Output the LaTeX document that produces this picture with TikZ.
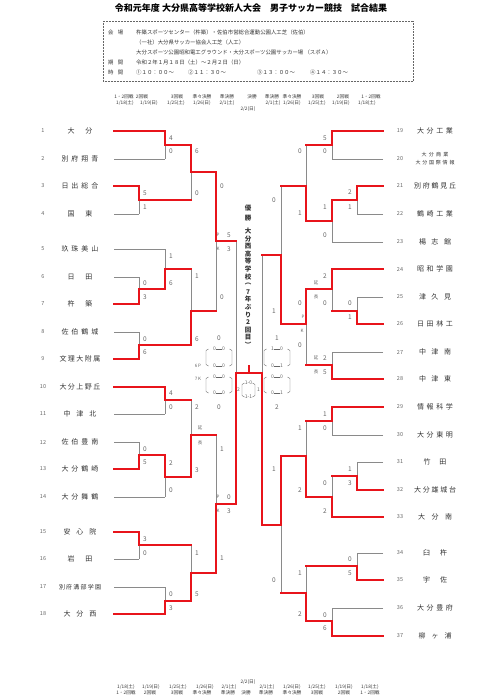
\documentclass[tikz,border=0pt]{standalone}
\usepackage{fontspec}
\setmainfont{Noto Sans CJK JP}
\usetikzlibrary{positioning}
\definecolor{cRed}{HTML}{E8141B}
\definecolor{cLine}{HTML}{8A8A8A}
\definecolor{cText}{HTML}{333333}
\definecolor{cNum}{HTML}{666666}
\pgfdeclarelayer{bg}
\pgfsetlayers{bg,main}

% spread the letters of a name over a fixed width
\def\spacedloop#1#2{#1\ifx#2\relax\else\hfil\expandafter\spacedloop\expandafter#2\fi}
\newcommand\spaced[2]{\makebox[#1][s]{\spacedloop#2\relax}}
\newcommand\hd{\rule[0.28em]{6pt}{0.4pt}}
\newcommand\smallname{\fontsize{5}{7.5}\selectfont}

% one match: x, top y, bottom y, out y, winner y, next x
\newcommand\bout[6]{%
  \begin{pgfonlayer}{bg}\draw[lose] (#1,#2) -- (#1,#3);\end{pgfonlayer}
  \draw[win] (#1,#5) -- (#1,#4) -- (#6,#4);}

% half-time box: centre x, top y, bottom y, half width, top text, bottom text
\newcommand\halves[6]{%
  \draw[boxline] (#1-#4+2.5,#2) -- (#1-#4,#2+1.5) -- (#1-#4,#3-1.5) -- (#1-#4+2.5,#3);
  \draw[boxline] (#1+#4-2.5,#2) -- (#1+#4,#2+1.5) -- (#1+#4,#3-1.5) -- (#1+#4-2.5,#3);
  \node[halfsc] (h-#1-#2) at (#1,#2) {#5};
  \node[halfsc] (h-#1-#3) at (#1,#3) {#6};}

\begin{document}
\begin{tikzpicture}[x=1pt, y=-1pt,
  win/.style={draw=cRed, line width=1.4pt, line cap=rect},
  lose/.style={draw=cLine, line width=0.6pt},
  tnum/.style={font=\fontsize{5.5}{6}\selectfont, text=cNum, inner sep=0pt},
  tname/.style={font=\fontsize{7}{8}\selectfont, text=cText, inner sep=0pt, align=center},
  score/.style={font=\fontsize{6.5}{7}\selectfont, text=cNum, inner sep=0pt},
  pkmark/.style={font=\fontsize{4.5}{5}\selectfont, text=cNum, inner sep=0pt},
  halfsc/.style={font=\fontsize{5}{6}\selectfont, text=cNum, inner sep=0pt},
  boxline/.style={draw=cNum, line width=0.4pt},
  hdr/.style={font=\fontsize{4.7}{5}\selectfont, text=cText, inner sep=0pt},
  info/.style={font=\fontsize{5.4}{6}\selectfont, text=cText, inner sep=0pt, anchor=west},
  champ/.style={font=\fontsize{6.5}{7}\selectfont\bfseries, text=cText, inner sep=0pt},
]
\useasboundingbox (0,0) rectangle (480,699);

%% title and venue box
\node[font=\fontsize{9}{10}\selectfont\bfseries, text=black] (title) at (251,8)
  {令和元年度 大分県高等学校新人大会　男子サッカー競技　試合結果};
\draw[cNum, line width=0.5pt, densely dotted] (103,21) rectangle (413,81);
\node[info] (lab1) at (108,32) {\spaced{15pt}{会場}};
\node[info] (lab2) at (108,62) {\spaced{15pt}{期間}};
\node[info] (lab3) at (108,72) {\spaced{15pt}{時間}};
\node[info] (ven1) at (136,32) {杵築スポーツセンター（杵築）・佐伯市営総合運動公園人工芝（佐伯）};
\node[info] (ven2) at (136,42) {（一社）大分県サッカー協会人工芝（人工）};
\node[info] (ven3) at (136,52) {大分スポーツ公園昭和電工グラウンド・大分スポーツ公園サッカー場 （スポＡ）};
\node[info] (per) at (136,62) {令和２年１月１８日（土）～２月２日（日）};
\node[info] (k1) at (136,72) {①１０：００～};
\node[info] (k2) at (188,72) {②１１：３０～};
\node[info] (k3) at (257,72) {③１３：００～};
\node[info] (k4) at (310,72) {④１４：３０～};

%% round headers, top and bottom
\foreach \x/\t [count=\i] in {124/1・2回戦, 142/2回戦, 177/3回戦, 202/準々決勝, 227/準決勝,
    252/決勝, 272/準決勝, 292/準々決勝, 318/3回戦, 343/2回戦, 371/1・2回戦}
  \node[hdr] (hr-\i) at (\x,97) {\t};
\foreach \x/\t [count=\i] in {125/{1/18(土)}, 149/{1/19(日)}, 176/{1/25(土)}, 202/{1/26(日)},
    227/{2/1(土)}, 273/{2/1(土)}, 292/{1/26(日)}, 317/{1/25(土)}, 341/{1/19(日)}, 367/{1/18(土)}}
  \node[hdr] (hd-\i) at (\x,103) {\t};
\node[hdr] (hfin) at (248,109) {2/2(日)};
\node[hdr] (ffin) at (248,682) {2/2(日)};
\foreach \x/\t [count=\i] in {126/{1/18(土)}, 151/{1/19(日)}, 178/{1/25(土)}, 205/{1/26(日)},
    229/{2/1(土)}, 267/{2/1(土)}, 292/{1/26(日)}, 317/{1/25(土)}, 344/{1/19(日)}, 370/{1/18(土)}}
  \node[hdr] (fd-\i) at (\x,687) {\t};
\foreach \x/\t [count=\i] in {126/1・2回戦, 150/2回戦, 177/3回戦, 202/準々決勝, 228/準決勝,
    246/決勝, 266/準決勝, 292/準々決勝, 317/3回戦, 344/2回戦, 370/1・2回戦}
  \node[hdr] (fr-\i) at (\x,693) {\t};

%% teams, left half
\foreach \n/\y/\nm/\xe/\st in {
  1/131/{\spaced{25pt}{大分}}/165/win,
  2/159/{\spaced{37pt}{別府翔青}}/165/lose,
  3/186/{\spaced{37pt}{日出総合}}/139/win,
  4/214/{\spaced{25pt}{国東}}/139/lose,
  5/249/{\spaced{37pt}{玖珠美山}}/165/lose,
  6/277/{\spaced{25pt}{日田}}/139/lose,
  7/304/{\spaced{25pt}{杵築}}/139/win,
  8/332/{\spaced{37pt}{佐伯鶴城}}/139/lose,
  9/359/{\spaced{41pt}{文理大附属}}/139/win,
  10/387/{\spaced{41pt}{大分上野丘}}/165/win,
  11/414/{\spaced{33pt}{中津北}}/165/lose,
  12/442/{\spaced{37pt}{佐伯豊南}}/139/lose,
  13/469/{\spaced{37pt}{大分鶴崎}}/139/win,
  14/497/{\spaced{37pt}{大分舞鶴}}/165/lose,
  15/532/{\spaced{33pt}{安心院}}/139/win,
  16/559/{\spaced{25pt}{岩田}}/139/lose,
  17/587/{\fontsize{6}{7}\selectfont\spaced{42pt}{別府溝部学園}}/165/lose,
  18/614/{\spaced{33pt}{大分西}}/165/win}
{
  \node[tnum] (n\n) at (43,\y) {\n};
  \node[tname] (t\n) at (80,\y) {\nm};
  \coordinate (e\n) at (114,\y);
  \draw[\st] (e\n) -- (\xe,\y);
}

%% teams, right half
\foreach \n/\y/\nm/\xe/\st in {
  19/131/{\spaced{36pt}{大分工業}}/332/win,
  20/159/{\smallname\spaced{27pt}{大分商業}\\\smallname\spaced{39pt}{大分国際情報}}/332/lose,
  21/186/{\spaced{42pt}{別府鶴見丘}}/357/win,
  22/214/{\spaced{36pt}{鶴崎工業}}/357/lose,
  23/242/{\spaced{32pt}{楊志館}}/332/lose,
  24/269/{\spaced{36pt}{昭和学園}}/332/win,
  25/297/{\spaced{32pt}{津久見}}/357/lose,
  26/324/{\spaced{36pt}{日田林工}}/357/win,
  27/352/{\spaced{32pt}{中津南}}/332/lose,
  28/379/{\spaced{32pt}{中津東}}/332/win,
  29/407/{\spaced{36pt}{情報科学}}/332/win,
  30/435/{\spaced{36pt}{大分東明}}/332/lose,
  31/462/{\spaced{23pt}{竹田}}/357/lose,
  32/490/{\spaced{42pt}{大分雄城台}}/357/win,
  33/517/{\spaced{34pt}{大分南}}/332/win,
  34/553/{\spaced{24pt}{臼杵}}/357/lose,
  35/580/{\spaced{24pt}{宇佐}}/357/win,
  36/608/{\spaced{36pt}{大分豊府}}/332/lose,
  37/636/{\spaced{33pt}{柳ヶ浦}}/332/win}
{
  \node[tnum] (n\n) at (400,\y) {\n};
  \node[tname] (t\n) at (435,\y) {\nm};
  \coordinate (e\n) at (383,\y);
  \draw[\st] (e\n) -- (\xe,\y);
}

%% matches, left half
\bout{165}{131}{159}{145}{131}{191}
\bout{139}{186}{214}{200}{186}{191}
\bout{191}{145}{200}{172}{145}{216}
\bout{139}{277}{304}{289}{304}{165}
\bout{165}{249}{289}{269}{289}{191}
\bout{139}{332}{359}{345}{359}{191}
\bout{191}{269}{345}{311}{345}{216}
\bout{216}{172}{311}{241}{172}{236}
\bout{165}{387}{414}{400}{387}{191}
\bout{139}{442}{469}{455}{469}{165}
\bout{165}{455}{497}{477}{455}{191}
\bout{191}{400}{477}{435}{477}{216}
\bout{139}{532}{559}{545}{532}{191}
\bout{165}{587}{614}{601}{614}{191}
\bout{191}{545}{601}{573}{601}{216}
\bout{216}{435}{573}{504}{573}{236}
\bout{236}{241}{504}{373}{504}{262}

%% matches, right half
\bout{332}{131}{159}{145}{131}{306}
\bout{357}{186}{214}{200}{186}{332}
\bout{332}{200}{242}{221}{200}{306}
\bout{306}{145}{221}{186}{221}{281}
\bout{357}{297}{324}{311}{324}{332}
\bout{332}{269}{311}{289}{269}{306}
\bout{332}{352}{379}{365}{379}{306}
\bout{306}{289}{365}{324}{289}{281}
\bout{281}{186}{324}{255}{324}{262}
\bout{332}{407}{435}{421}{407}{306}
\bout{357}{462}{490}{476}{490}{332}
\bout{332}{476}{517}{497}{517}{306}
\bout{306}{421}{497}{456}{497}{281}
\bout{357}{553}{580}{566}{580}{306}
\bout{332}{608}{636}{621}{636}{306}
\bout{306}{566}{621}{593}{621}{281}
\bout{281}{456}{593}{525}{456}{262}
\bout{262}{255}{525}{373}{525}{236}

%% final
\coordinate (cup) at (249,366);
\draw[win] (249,373) -- (cup);

%% scores
\foreach \x/\y/\s in {
  171/138/4, 171/151/0, 145/193/5, 145/207/1, 197/151/6, 197/193/0,
  145/283/0, 145/297/3, 171/256/1, 171/283/6, 145/339/0, 145/352/6,
  197/276/1, 197/339/6, 222/186/0, 222/297/0, 229/235/5, 229/249/3,
  171/393/4, 171/407/0, 145/449/0, 145/462/5, 171/463/2, 171/490/0,
  197/407/2, 197/470/3, 145/539/3, 145/553/0, 171/594/0, 171/608/3,
  197/553/1, 197/594/5, 222/449/1, 222/558/1, 229/497/0, 229/511/3,
  219/338/0, 219/407/0,
  325/138/5, 325/151/0, 350/192/2, 350/207/1, 325/207/1, 325/235/0,
  300/151/0, 300/213/1, 350/303/0, 350/317/1, 325/276/2, 325/303/0,
  325/358/2, 325/372/5, 300/303/0, 300/345/0, 274/200/0, 274/311/1,
  325/414/1, 325/428/0, 350/469/1, 350/483/3, 325/483/0, 325/511/2,
  300/428/1, 300/490/2, 350/559/0, 350/573/5, 325/615/0, 325/628/6,
  300/573/1, 300/614/2, 274/469/1, 274/580/0, 277/338/1, 277/407/2}
  \node[score] (s-\x-\y) at (\x,\y) {\s};

%% penalty and extra-time marks
\foreach \x/\y/\s in {218/235/P, 218/249/K, 218/497/P, 218/511/K,
  200/428/延, 200/443/長, 316/283/延, 316/297/長, 316/358/延, 316/372/長,
  303/317/P, 302/331/K, 198/366/6\,P, 198/379/7\,K}
  \node[pkmark] (m-\x-\y) at (\x,\y) {\s};

%% half-time boxes
\halves{219}{349}{366}{13}{0\hd0}{0\hd0}
\halves{219}{377}{393}{13}{0\hd0}{0\hd0}
\halves{277}{349}{366}{13}{1\hd0}{0\hd1}
\halves{277}{377}{393}{13}{0\hd0}{0\hd1}
\halves{248.5}{383}{397}{6.5}{1-0}{1-1}
\node[halfsc] (ftl) at (238.5,390) {2};
\node[halfsc] (ftr) at (258.5,390) {1};

%% champion
\node[champ] (cw1) at (248,208) {優};
\node[champ] (cw2) at (248,218) {勝};
\foreach \ch [count=\i from 0] in {大,分,西,高,等,学,校,︵,7,年,ぶ,り,2,回,目,︶}
  \node[champ] (cv\i) at (248,231+7.6*\i) {\ch};
\end{tikzpicture}
\end{document}
